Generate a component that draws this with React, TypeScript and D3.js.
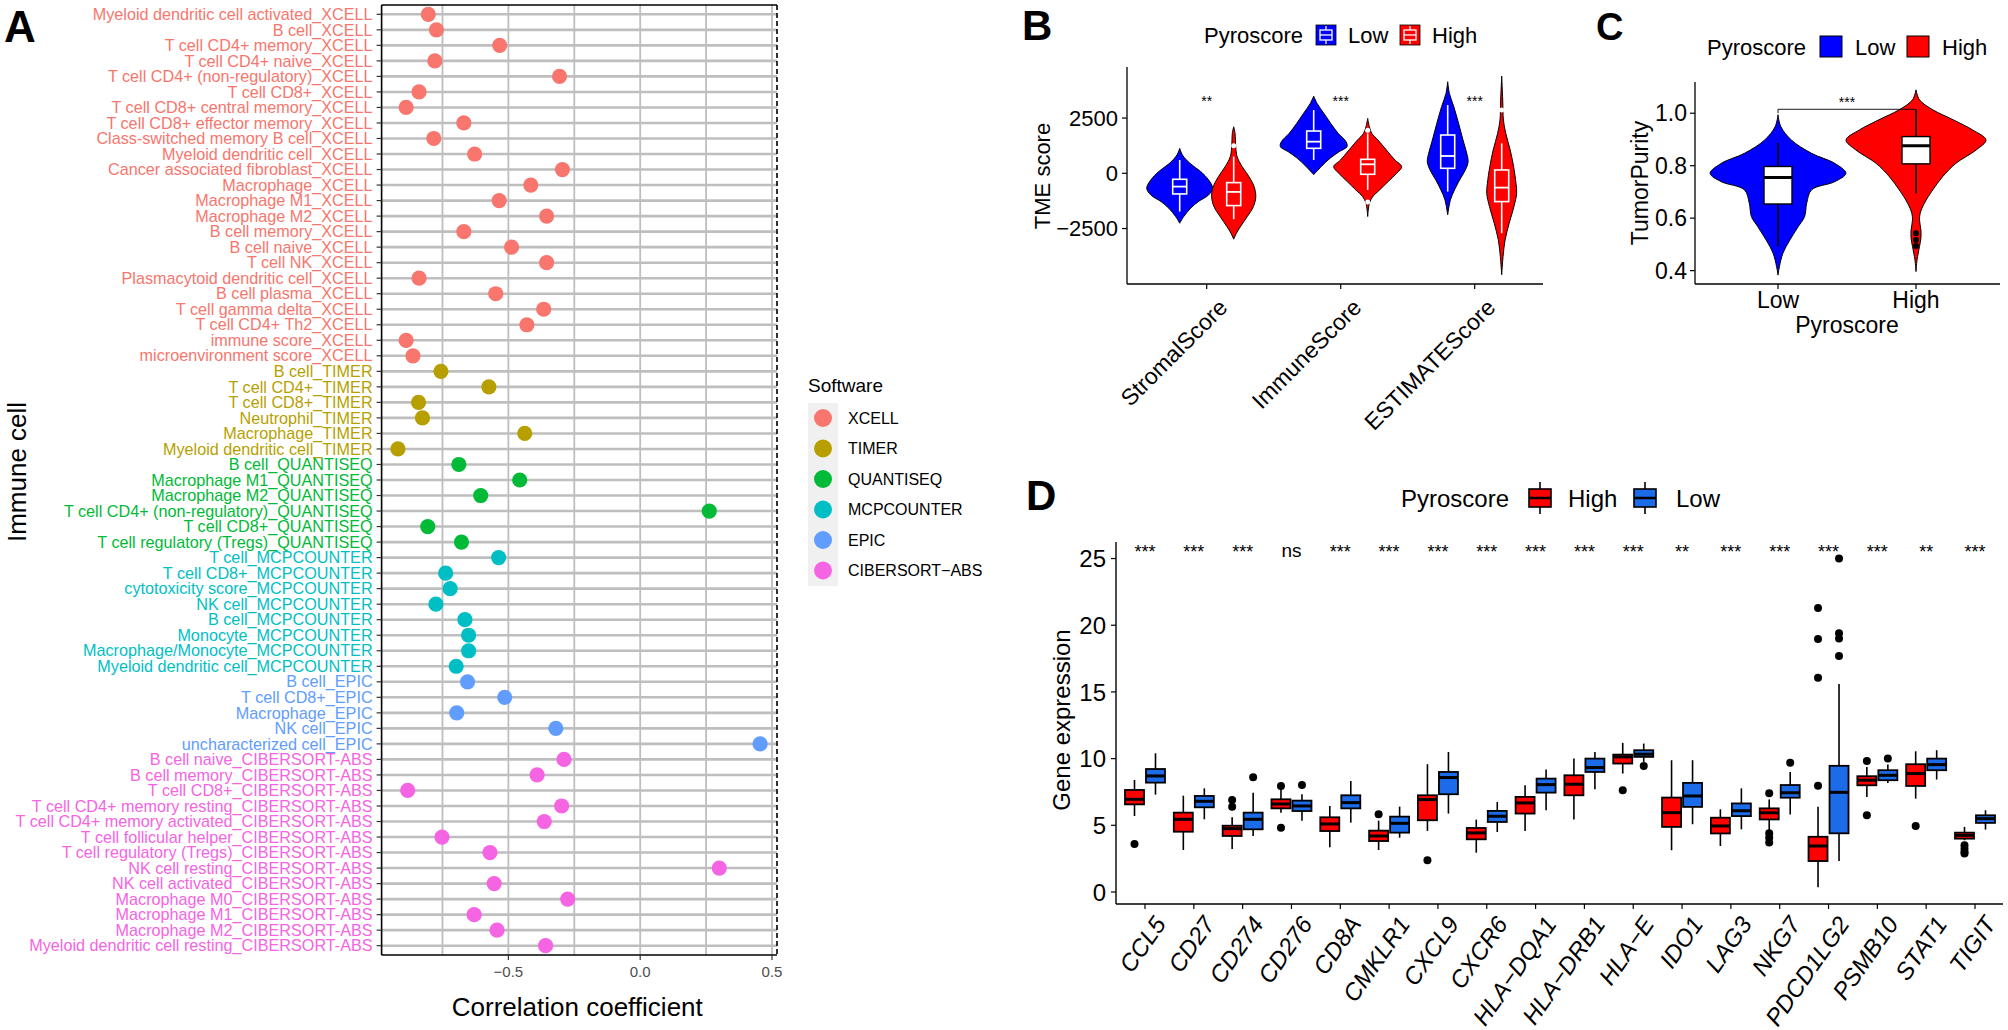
import React from "react";
import * as d3 from "d3";

const FONT = "'Liberation Sans', Arial, Helvetica, sans-serif";

// ---------------- Panel A data ----------------
const softwareNames = ["XCELL", "TIMER", "QUANTISEQ", "MCPCOUNTER", "EPIC", "CIBERSORT-ABS"];
const softwareColors = ["#F8766D", "#B79F00", "#00BA38", "#00BFC4", "#619CFF", "#F564E3"];

const xcellCells = ["Myeloid dendritic cell activated", "B cell", "T cell CD4+ memory", "T cell CD4+ naive", "T cell CD4+ (non-regulatory)", "T cell CD8+", "T cell CD8+ central memory", "T cell CD8+ effector memory", "Class-switched memory B cell", "Myeloid dendritic cell", "Cancer associated fibroblast", "Macrophage", "Macrophage M1", "Macrophage M2", "B cell memory", "B cell naive", "T cell NK", "Plasmacytoid dendritic cell", "B cell plasma", "T cell gamma delta", "T cell CD4+ Th2", "immune score", "microenvironment score"];
const xcellCorr = [-0.804, -0.773, -0.533, -0.779, -0.306, -0.839, -0.888, -0.669, -0.783, -0.628, -0.295, -0.415, -0.535, -0.355, -0.669, -0.488, -0.355, -0.839, -0.548, -0.366, -0.43, -0.888, -0.862];
const timerCells = ["B cell", "T cell CD4+", "T cell CD8+", "Neutrophil", "Macrophage", "Myeloid dendritic cell"];
const timerCorr = [-0.756, -0.574, -0.841, -0.826, -0.438, -0.919];
const quantiseqCells = ["B cell", "Macrophage M1", "Macrophage M2", "T cell CD4+ (non-regulatory)", "T cell CD8+", "T cell regulatory (Tregs)"];
const quantiseqCorr = [-0.688, -0.457, -0.605, 0.262, -0.806, -0.678];
const mcpCells = ["T cell", "T cell CD8+", "cytotoxicity score", "NK cell", "B cell", "Monocyte", "Macrophage/Monocyte", "Myeloid dendritic cell"];
const mcpCorr = [-0.537, -0.738, -0.721, -0.775, -0.665, -0.651, -0.651, -0.698];
const epicCells = ["B cell", "T cell CD8+", "Macrophage", "NK cell", "uncharacterized cell"];
const epicCorr = [-0.655, -0.514, -0.696, -0.32, 0.455];
const cibersortCells = ["B cell naive", "B cell memory", "T cell CD8+", "T cell CD4+ memory resting", "T cell CD4+ memory activated", "T cell follicular helper", "T cell regulatory (Tregs)", "NK cell resting", "NK cell activated", "Macrophage M0", "Macrophage M1", "Macrophage M2", "Myeloid dendritic cell resting"];
const cibersortCorr = [-0.289, -0.391, -0.882, -0.298, -0.364, -0.752, -0.57, 0.3, -0.554, -0.275, -0.63, -0.543, -0.359];
const corrTicks = [-0.5, 0, 0.5];
const corrGrid = [-0.75, -0.5, -0.25, 0, 0.25, 0.5];

// ---------------- Panel B data ----------------
const tmeCategories = ["StromalScore", "ImmuneScore", "ESTIMATEScore"];
const tmeTicks = [-2500, 0, 2500];
const tmeSig = ["**", "***", "***"];
// violin profiles: [score, relative density]
const violinStromalLow = [[1130, 0], [828, 0.08], [452, 0.3], [75, 0.62], [-301, 0.85], [-678, 0.97], [-979, 0.85], [-1280, 0.55], [-1581, 0.32], [-1958, 0.12], [-2259, 0]];
const violinStromalHigh = [[2108, 0], [1807, 0.04], [1205, 0.06], [753, 0.1], [301, 0.25], [-151, 0.45], [-602, 0.6], [-1054, 0.65], [-1506, 0.58], [-1958, 0.4], [-2410, 0.2], [-2711, 0.08], [-2982, 0]];
const violinImmuneLow = [[3494, 0], [3163, 0.1], [2711, 0.3], [2259, 0.5], [1807, 0.72], [1431, 0.95], [1205, 0.98], [979, 0.75], [678, 0.48], [301, 0.22], [-60, 0]];
const violinImmuneHigh = [[2485, 0], [2108, 0.05], [1807, 0.12], [1506, 0.3], [1054, 0.55], [602, 0.8], [301, 1.0], [0, 0.85], [-377, 0.6], [-753, 0.35], [-1054, 0.15], [-1355, 0.05], [-1958, 0]];
const violinEstimateLow = [[4142, 0], [3614, 0.05], [3012, 0.18], [2259, 0.32], [1506, 0.45], [904, 0.56], [527, 0.6], [151, 0.52], [-301, 0.35], [-753, 0.2], [-1205, 0.08], [-1883, 0]];
const violinEstimateHigh = [[4398, 0], [3313, 0.03], [2410, 0.05], [1807, 0.12], [1054, 0.25], [301, 0.35], [-452, 0.42], [-904, 0.44], [-1506, 0.36], [-2259, 0.22], [-3012, 0.1], [-3765, 0.04], [-4593, 0]];
// box stats: [lower whisker, q1, median, q3, upper whisker]
const tmeLowBox = [[-1732, -934, -602, -271, 602], [602, 1130, 1431, 1913, 2861], [-828, 226, 783, 1732, 3087]];
const tmeHighBox = [[-2078, -1461, -843, -422, 753], [-753, -45, 407, 632, 1807], [-2711, -1280, -648, 151, 1355]];
const tmeHighOutliers = [[1250], [1950, -1300], [2861]];

// ---------------- Panel C data ----------------
const purityGroups = ["Low", "High"];
const purityTicks = [0.4, 0.6, 0.8, 1.0];
const violinPurityLow = [[0.994, 0], [0.949, 0.04], [0.898, 0.19], [0.847, 0.48], [0.809, 0.81], [0.771, 0.97], [0.739, 0.81], [0.708, 0.48], [0.657, 0.41], [0.606, 0.38], [0.568, 0.29], [0.517, 0.17], [0.466, 0.07], [0.415, 0.02], [0.383, 0]];
const violinPurityHigh = [[1.089, 0], [1.051, 0.05], [1.013, 0.24], [0.975, 0.53], [0.936, 0.81], [0.898, 1.0], [0.86, 0.86], [0.809, 0.57], [0.758, 0.38], [0.708, 0.24], [0.657, 0.12], [0.619, 0.06], [0.593, 0.05], [0.555, 0.07], [0.523, 0.07], [0.492, 0.05], [0.441, 0.015], [0.396, 0]];
const purityLowBox = [0.492, 0.654, 0.755, 0.797, 0.886];
const purityHighBox = [0.695, 0.807, 0.876, 0.911, 1.013];
const purityHighOutliers = [0.542, 0.517, 0.494];

// ---------------- Panel D data ----------------
const genes = ["CCL5", "CD27", "CD274", "CD276", "CD8A", "CMKLR1", "CXCL9", "CXCR6", "HLA-DQA1", "HLA-DRB1", "HLA-E", "IDO1", "LAG3", "NKG7", "PDCD1LG2", "PSMB10", "STAT1", "TIGIT"];
const geneSig = ["***", "***", "***", "ns", "***", "***", "***", "***", "***", "***", "***", "**", "***", "***", "***", "***", "**", "***"];
const exprTicks = [0, 5, 10, 15, 20, 25];
const highExprBox = [
  [5.7, 6.57, 6.95, 7.65, 8.4], [3.15, 4.52, 5.45, 5.95, 7.22], [3.22, 4.2, 4.75, 4.97, 5.6], [5.95, 6.27, 6.6, 6.95, 7.7],
  [3.35, 4.57, 5.1, 5.6, 6.45], [3.15, 3.82, 4.2, 4.6, 5.35], [4.58, 5.38, 6.93, 7.25, 9.58], [2.95, 3.95, 4.43, 4.8, 5.43],
  [4.58, 5.88, 6.68, 7.13, 8.0], [5.43, 7.25, 8.08, 8.75, 10.0], [8.88, 9.63, 10.13, 10.3, 11.18], [3.13, 4.88, 5.95, 7.08, 9.88],
  [3.45, 4.39, 4.95, 5.57, 6.2], [4.65, 5.44, 5.94, 6.27, 6.94], [0.35, 2.32, 3.45, 4.14, 6.4], [7.13, 8.0, 8.38, 8.68, 9.38],
  [7.0, 7.95, 8.88, 9.58, 10.55], [3.88, 4.0, 4.25, 4.45, 4.88]];
const lowExprBox = [
  [7.3, 8.2, 8.7, 9.22, 10.4], [5.45, 6.35, 6.8, 7.2, 7.77], [4.2, 4.7, 5.45, 5.95, 7.45], [5.35, 6.07, 6.45, 6.85, 7.32],
  [5.2, 6.27, 6.7, 7.25, 8.32], [4.07, 4.45, 5.15, 5.65, 6.4], [5.88, 7.33, 8.58, 9.0, 10.5], [4.5, 5.25, 5.68, 6.08, 6.75],
  [6.13, 7.45, 8.05, 8.5, 9.18], [7.7, 9.0, 9.33, 10.0, 10.5], [9.75, 10.13, 10.33, 10.63, 11.13], [5.08, 6.38, 7.2, 8.18, 9.88],
  [4.7, 5.69, 6.09, 6.64, 7.77], [5.81, 7.07, 7.44, 8.02, 9.0], [2.33, 4.4, 7.47, 9.46, 15.6], [8.18, 8.38, 8.75, 9.13, 9.55],
  [8.43, 9.13, 9.55, 10.0, 10.63], [4.68, 5.18, 5.5, 5.75, 6.13]];
const highExprOutliers = [[3.6], [], [6.9, 6.4], [7.95, 4.82], [], [5.82], [2.38], [], [], [], [7.63], [], [], [7.4, 4.4, 4.07, 3.72], [21.3, 18.97, 16.07, 7.97], [9.83, 5.75], [4.95], [3.5, 3.25, 3.0, 2.88]];
const lowExprOutliers = [[], [], [8.6], [8.02], [], [], [], [], [], [], [9.45], [], [], [9.69], [25.0, 19.4, 19.0, 17.7], [10.0], [], []];

const BLUE = "#0000FF";
const RED = "#FF0000";
const D_RED = "#FF0000";
const D_BLUE = "#1C6BE8";

// ---------------- Panel A ----------------
function PanelA() {
  const groups = [
    [xcellCells, xcellCorr], [timerCells, timerCorr], [quantiseqCells, quantiseqCorr],
    [mcpCells, mcpCorr], [epicCells, epicCorr], [cibersortCells, cibersortCorr],
  ] as [string[], number[]][];
  const rows: { label: string; value: number; color: string }[] = [];
  groups.forEach(([cells, vals], gi) => {
    cells.forEach((c, i) => rows.push({ label: `${c}_${softwareNames[gi]}`, value: vals[i], color: softwareColors[gi] }));
  });
  const left = 381.6, right = 777, top = 5, bottom = 955;
  const x = d3.scaleLinear().domain([-0.981, 0.519]).range([left, right]);
  const y = d3.scalePoint<string>().domain(rows.map((r) => r.label)).range([top, bottom]).padding(0.6);
  return (
    <g>
      <text x={4} y={42} fontSize={44} fontWeight="bold">A</text>
      {corrGrid.map((v) => (
        <line key={"gx" + v} x1={x(v)} x2={x(v)} y1={top} y2={bottom} stroke="#BEBEBE" strokeWidth={1.8} />
      ))}
      {rows.map((r) => (
        <line key={"gy" + r.label} x1={left} x2={right} y1={y(r.label)} y2={y(r.label)} stroke="#BEBEBE" strokeWidth={2.6} />
      ))}
      <line x1={left} x2={right} y1={top} y2={top} stroke="#000" strokeWidth={1.6} />
      <line x1={right} x2={right} y1={top} y2={bottom} stroke="#000" strokeWidth={1.6} strokeDasharray="5,3" />
      <line x1={left} x2={left} y1={top} y2={bottom} stroke="#000" strokeWidth={1.6} />
      <line x1={left} x2={right} y1={bottom} y2={bottom} stroke="#000" strokeWidth={1.6} />
      {rows.map((r) => (
        <g key={"r" + r.label}>
          <line x1={left - 5} x2={left} y1={y(r.label)} y2={y(r.label)} stroke="#333" strokeWidth={1.2} />
          <text x={left - 9} y={y(r.label)} dy="0.35em" textAnchor="end" fontSize={16.2} fill={r.color}>{r.label}</text>
          <circle cx={x(r.value)} cy={y(r.label)} r={7.6} fill={r.color} />
        </g>
      ))}
      {corrTicks.map((v) => (
        <g key={"xt" + v}>
          <line x1={x(v)} x2={x(v)} y1={bottom} y2={bottom + 5} stroke="#333" strokeWidth={1.2} />
          <text x={x(v)} y={bottom + 22} textAnchor="middle" fontSize={15} fill="#4D4D4D">{d3.format(".1f")(v).replace("-", "\u2212")}</text>
        </g>
      ))}
      <text x={(left + right) / 2 - 2} y={1016} textAnchor="middle" fontSize={26}>Correlation coefficient</text>
      <text transform={`translate(26,472) rotate(-90)`} textAnchor="middle" fontSize={26}>Immune cell</text>
      {/* legend */}
      <text x={808} y={392} fontSize={19}>Software</text>
      <rect x={808} y={403} width={30} height={183} fill="#F0F0F0" />
      {softwareNames.map((s, i) => (
        <g key={"lg" + s}>
          <circle cx={823} cy={418 + i * 30.5} r={9} fill={softwareColors[i]} />
          <text x={848} y={418 + i * 30.5} dy="0.35em" fontSize={16}>{s.replace("-", "\u2212")}</text>
        </g>
      ))}
    </g>
  );
}

// ---------------- Panel B ----------------
function PanelB() {
  const left = 1127, right = 1543, top = 67, bottom = 284;
  const y = d3.scaleLinear().domain([-5010, 4810]).range([bottom, top]);
  const x = d3.scalePoint<string>().domain(tmeCategories).range([1206.7, 1474.7]);
  const w = d3.scaleLinear().domain([0, 1]).range([0, 34]);
  const lowV = [violinStromalLow, violinImmuneLow, violinEstimateLow];
  const highV = [violinStromalHigh, violinImmuneHigh, violinEstimateHigh];
  const makeArea = (cx: number) =>
    d3.area<number[]>().y((d) => y(d[0])).x0((d) => cx - w(d[1])).x1((d) => cx + w(d[1])).curve(d3.curveCatmullRom.alpha(0.5));
  const box = (cx: number, s: number[], key: string) => (
    <g key={key} stroke="#fff" fill="none">
      <line x1={cx} x2={cx} y1={y(s[0])} y2={y(s[1])} strokeWidth={1.6} />
      <line x1={cx} x2={cx} y1={y(s[3])} y2={y(s[4])} strokeWidth={1.6} />
      <rect x={cx - 7} width={14} y={y(s[3])} height={y(s[1]) - y(s[3])} strokeWidth={1.6} />
      <line x1={cx - 7} x2={cx + 7} y1={y(s[2])} y2={y(s[2])} strokeWidth={1.8} />
    </g>
  );
  return (
    <g>
      <text x={1022} y={40} fontSize={42} fontWeight="bold">B</text>
      <text x={1204} y={43} fontSize={22}>Pyroscore</text>
      {[["Low", BLUE, 1316, 1348], ["High", RED, 1400, 1432]].map(([lab, col, kx, tx]) => (
        <g key={"lk" + lab}>
          <rect x={kx as number} y={25} width={20} height={20} fill={col as string} stroke="#000" strokeWidth={0.8} />
          <g stroke="#fff" fill="none" strokeWidth={1.3}>
            <rect x={(kx as number) + 4} y={30} width={12} height={10} />
            <line x1={(kx as number) + 4} x2={(kx as number) + 16} y1={35} y2={35} />
            <line x1={(kx as number) + 10} x2={(kx as number) + 10} y1={26} y2={30} />
            <line x1={(kx as number) + 10} x2={(kx as number) + 10} y1={40} y2={44} />
          </g>
          <text x={tx as number} y={43} fontSize={22}>{lab as string}</text>
        </g>
      ))}
      {tmeCategories.map((c, i) => {
        const cl = (x(c) as number) - 27, ch = (x(c) as number) + 27;
        return (
          <g key={"v" + c}>
            <path d={makeArea(cl)(lowV[i]) as string} fill={BLUE} stroke="#000" strokeWidth={1} />
            <path d={makeArea(ch)(highV[i]) as string} fill={RED} stroke="#000" strokeWidth={1} />
            {box(cl, tmeLowBox[i], "bl" + c)}
            {box(ch, tmeHighBox[i], "bh" + c)}
            {tmeHighOutliers[i].map((o, j) => (
              <circle key={"o" + j} cx={ch} cy={y(o)} r={2.5} fill="#fff" />
            ))}
            <text x={x(c)} y={106} textAnchor="middle" fontSize={14}>{tmeSig[i]}</text>
          </g>
        );
      })}
      <line x1={left} x2={left} y1={top} y2={bottom} stroke="#000" strokeWidth={1.3} />
      <line x1={left} x2={right} y1={bottom} y2={bottom} stroke="#000" strokeWidth={1.3} />
      {tmeTicks.map((t) => (
        <g key={"yt" + t}>
          <line x1={left - 5} x2={left} y1={y(t)} y2={y(t)} stroke="#000" strokeWidth={1.2} />
          <text x={left - 9} y={y(t)} dy="0.36em" textAnchor="end" fontSize={22}>{String(t).replace("-", "\u2212")}</text>
        </g>
      ))}
      {tmeCategories.map((c) => (
        <g key={"xt" + c}>
          <line x1={x(c)} x2={x(c)} y1={bottom} y2={bottom + 5} stroke="#000" strokeWidth={1.2} />
          <text transform={`translate(${(x(c) as number) + 22},309) rotate(-45)`} textAnchor="end" fontSize={23}>{c}</text>
        </g>
      ))}
      <text transform="translate(1050,176) rotate(-90)" textAnchor="middle" fontSize={22}>TME score</text>
    </g>
  );
}

// ---------------- Panel C ----------------
function PanelC() {
  const left = 1695, right = 2000, top = 82, bottom = 284;
  const y = d3.scaleLinear().domain([0.349, 1.119]).range([bottom, top]);
  const x = d3.scalePoint<string>().domain(purityGroups).range([1778, 1916]);
  const w = d3.scaleLinear().domain([0, 1]).range([0, 70]);
  const makeArea = (cx: number) =>
    d3.area<number[]>().y((d) => y(d[0])).x0((d) => cx - w(d[1])).x1((d) => cx + w(d[1])).curve(d3.curveCatmullRom.alpha(0.5));
  const box = (cx: number, s: number[], key: string) => (
    <g key={key} stroke="#000">
      <line x1={cx} x2={cx} y1={y(s[0])} y2={y(s[4])} strokeWidth={1.6} />
      <rect x={cx - 14} width={28} y={y(s[3])} height={y(s[1]) - y(s[3])} fill="#fff" strokeWidth={1.4} />
      <line x1={cx - 14} x2={cx + 14} y1={y(s[2])} y2={y(s[2])} strokeWidth={3} />
    </g>
  );
  const xl = x("Low") as number, xh = x("High") as number;
  return (
    <g>
      <text x={1596} y={40} fontSize={38} fontWeight="bold">C</text>
      <text x={1707} y={55} fontSize={22}>Pyroscore</text>
      <rect x={1820} y={36} width={22} height={21} fill={BLUE} stroke="#000" strokeWidth={1} />
      <text x={1855} y={55} fontSize={22}>Low</text>
      <rect x={1907} y={36} width={22} height={21} fill={RED} stroke="#000" strokeWidth={1} />
      <text x={1942} y={55} fontSize={22}>High</text>
      <path d={makeArea(xl)(violinPurityLow) as string} fill={BLUE} stroke="#000" strokeWidth={1} />
      <path d={makeArea(xh)(violinPurityHigh) as string} fill={RED} stroke="#000" strokeWidth={1} />
      {box(xl, purityLowBox, "bl")}
      {box(xh, purityHighBox, "bh")}
      {purityHighOutliers.map((o, i) => (
        <circle key={"o" + i} cx={xh} cy={y(o)} r={3} fill="#000" />
      ))}
      <path d={`M${xl},${y(1.0)}V${y(1.015)}H${xh}V${y(1.0)}`} fill="none" stroke="#000" strokeWidth={0.9} />
      <text x={(xl + xh) / 2} y={107} textAnchor="middle" fontSize={14}>***</text>
      <line x1={left} x2={left} y1={top} y2={bottom} stroke="#000" strokeWidth={1.3} />
      <line x1={left} x2={right} y1={bottom} y2={bottom} stroke="#000" strokeWidth={1.3} />
      {purityTicks.map((t) => (
        <g key={"yt" + t}>
          <line x1={left - 5} x2={left} y1={y(t)} y2={y(t)} stroke="#000" strokeWidth={1.2} />
          <text x={left - 8} y={y(t)} dy="0.36em" textAnchor="end" fontSize={23}>{d3.format(".1f")(t)}</text>
        </g>
      ))}
      {purityGroups.map((g) => (
        <g key={"xt" + g}>
          <line x1={x(g)} x2={x(g)} y1={bottom} y2={bottom + 5} stroke="#000" strokeWidth={1.2} />
          <text x={x(g)} y={308} textAnchor="middle" fontSize={23}>{g}</text>
        </g>
      ))}
      <text x={1847} y={333} textAnchor="middle" fontSize={23}>Pyroscore</text>
      <text transform="translate(1648,183) rotate(-90)" textAnchor="middle" fontSize={23}>TumorPurity</text>
    </g>
  );
}

// ---------------- Panel D ----------------
function PanelD() {
  const left = 1116, right = 2003, top = 542, bottom = 904;
  const y = d3.scaleLinear().domain([-0.9, 26.24]).range([bottom, top]);
  const x = d3.scalePoint<string>().domain(genes).range([1145, 1975]);
  const off = 10.5, bw = 19;
  const box = (cx: number, s: number[], col: string, outl: number[], key: string) => (
    <g key={key}>
      <line x1={cx} x2={cx} y1={y(s[0])} y2={y(s[4])} stroke="#000" strokeWidth={1.6} />
      <rect x={cx - bw / 2} width={bw} y={y(s[3])} height={Math.max(1, y(s[1]) - y(s[3]))} fill={col} stroke="#000" strokeWidth={1.8} />
      <line x1={cx - bw / 2} x2={cx + bw / 2} y1={y(s[2])} y2={y(s[2])} stroke="#000" strokeWidth={3} />
      {outl.map((o, i) => (
        <circle key={i} cx={cx} cy={y(o)} r={4} fill="#000" />
      ))}
    </g>
  );
  return (
    <g>
      <text x={1026} y={510} fontSize={42} fontWeight="bold">D</text>
      <text x={1401} y={507} fontSize={24}>Pyroscore</text>
      {[["High", D_RED, 1529, 1568], ["Low", D_BLUE, 1634, 1676]].map(([lab, col, kx, tx]) => (
        <g key={"lk" + lab}>
          <line x1={(kx as number) + 11} x2={(kx as number) + 11} y1={482} y2={514} stroke="#000" strokeWidth={1.6} />
          <rect x={kx as number} y={489} width={22} height={18} fill={col as string} stroke="#000" strokeWidth={1.6} />
          <line x1={kx as number} x2={(kx as number) + 22} y1={498} y2={498} stroke="#000" strokeWidth={2.5} />
          <text x={tx as number} y={507} fontSize={24}>{lab as string}</text>
        </g>
      ))}
      {genes.map((g, i) => {
        const cx = x(g) as number;
        return (
          <g key={"g" + g}>
            {box(cx - off, highExprBox[i], D_RED, highExprOutliers[i], "h" + g)}
            {box(cx + off, lowExprBox[i], D_BLUE, lowExprOutliers[i], "l" + g)}
            <text x={cx} y={geneSig[i] === "ns" ? 557 : 558} textAnchor="middle" fontSize={geneSig[i] === "ns" ? 19 : 18}>{geneSig[i]}</text>
          </g>
        );
      })}
      <line x1={left} x2={left} y1={top} y2={bottom} stroke="#000" strokeWidth={1.4} />
      <line x1={left} x2={right} y1={bottom} y2={bottom} stroke="#000" strokeWidth={1.4} />
      {exprTicks.map((t) => (
        <g key={"yt" + t}>
          <line x1={left - 5} x2={left} y1={y(t)} y2={y(t)} stroke="#000" strokeWidth={1.2} />
          <text x={left - 10} y={y(t)} dy="0.36em" textAnchor="end" fontSize={24}>{t}</text>
        </g>
      ))}
      {genes.map((g) => (
        <g key={"xt" + g}>
          <line x1={x(g)} x2={x(g)} y1={bottom} y2={bottom + 5} stroke="#000" strokeWidth={1.2} />
          <text transform={`translate(${(x(g) as number) + 22},924) rotate(-55)`} textAnchor="end" fontSize={24} fontStyle="italic">{g.replace(/-/g, "\u2212")}</text>
        </g>
      ))}
      <text transform="translate(1070,720) rotate(-90)" textAnchor="middle" fontSize={24}>Gene expression</text>
    </g>
  );
}

export default function App() {
  return (
    <svg width={2008} height={1030} style={{ position: "absolute", left: 0, top: 0 }} fontFamily={FONT}>
      <rect width={2008} height={1030} fill="#fff" />
      <PanelA />
      <PanelB />
      <PanelC />
      <PanelD />
    </svg>
  );
}
